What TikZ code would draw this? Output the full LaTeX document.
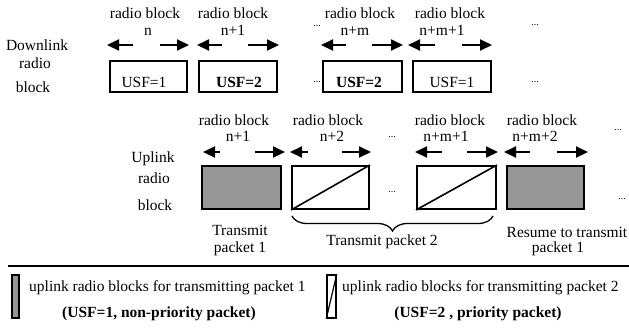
\documentclass[tikz,border=0pt]{standalone}
\usepackage{fontspec}
\setmainfont{Liberation Serif}
\usetikzlibrary{arrows.meta,decorations.pathreplacing,calc}
\definecolor{boxgray}{RGB}{150,150,150}
\begin{document}
\begin{tikzpicture}[x=1pt,y=-1pt,
  every node/.style={font=\fontsize{15.5}{18}\selectfont, inner sep=0pt},
  lbl/.style={anchor=base},
  lbltwo/.style={anchor=base, text height=8.5pt},
  dots/.style={anchor=base, font=\fontsize{10}{12}\selectfont},
  blk/.style={draw, line width=2pt, rectangle, minimum height=#1},
  blk/.default=31pt,
  dir/.style={line width=2pt, -{Triangle[length=12pt,width=11pt]}},
  slashbox/.style={draw, line width=2pt, rectangle, minimum height=43pt, minimum width=#1,
    append after command={\pgfextra{\draw[line width=1.6pt] (\tikzlastnode.south west) -- (\tikzlastnode.north east);}}},
]
\useasboundingbox (0,0) rectangle (629,330);

% ---------- Downlink ----------
\node[lbl] (dl1) at (37,50) {Downlink};
\node[lbl] (dl2) at (35,68) {radio};
\node[lbl] (dl3) at (33,92) {block};

\node[blk, minimum width=77pt] (d1) at (148.5,76.5) {};
\node[blk, minimum width=78pt] (d2) at (238,76.5) {};
\node[blk, minimum width=79pt] (d3) at (362.5,76.5) {};
\node[blk, minimum width=78pt] (d4) at (452,76.5) {};

\node[lbl] (d1t) at (144,87) {USF=1};
\node[lbl] (d2t) at (239,87) {\bfseries USF=2};
\node[lbl] (d3t) at (359,87) {\bfseries USF=2};
\node[lbl] (d4t) at (452,87) {USF=1};

\node[lbl] (d1a) at (145,18) {radio block};
\node[lbl] (d2a) at (233,18) {radio block};
\node[lbl] (d3a) at (360,18) {radio block};
\node[lbl] (d4a) at (450,18) {radio block};
\node[lbl] (d1b) at (148,35) {n};
\node[lbl] (d2b) at (233,35) {n+1};
\node[lbl] (d3b) at (355,35) {n+m};
\node[lbl] (d4b) at (442,35) {n+m+1};

\node[dots] (dd1) at (317,26) {...};
\node[dots] (dd2) at (317,82) {...};
\node[dots] (dd3) at (535,25) {...};
\node[dots] (dd4) at (535,82) {...};

\foreach \lt/\lf/\rf/\rt in {107/133/160/189, 197/222/248/279, 321/346/372/403, 408/435/462/492}{
  \coordinate (a1) at (\lf,45); \coordinate (a2) at (\lt,45);
  \coordinate (a3) at (\rf,45); \coordinate (a4) at (\rt,45);
  \draw[dir] (a1) -- (a2);
  \draw[dir] (a3) -- (a4);
}

% ---------- Uplink ----------
\node[lbl] (ul1) at (153,162) {Uplink};
\node[lbl] (ul2) at (154,183) {radio};
\node[lbl] (ul3) at (155,210) {block};

\node[blk=43pt, minimum width=79pt, fill=boxgray] (u1) at (241.5,187.5) {};
\node[slashbox=77pt] (u2) at (330.5,187.5) {};
\node[slashbox=79pt] (u3) at (456.5,187.5) {};
\node[blk=43pt, minimum width=77pt, fill=boxgray] (u4) at (545.5,187.5) {};

\node[lbl] (u1a) at (234,125) {radio block};
\node[lbl] (u2a) at (328,125) {radio block};
\node[lbl] (u3a) at (450,125) {radio block};
\node[lbl] (u4a) at (542,125) {radio block};
\node[lbltwo] (u1b) at (238,141) {n+1};
\node[lbltwo] (u2b) at (332,141) {n+2};
\node[lbltwo] (u3b) at (446,141) {n+m+1};
\node[lbltwo] (u4b) at (535,141) {n+m+2};

\node[dots] (ud1) at (392,137) {...};
\node[dots] (ud2) at (392,192) {...};
\node[dots] (ud3) at (618,130) {...};
\node[dots] (ud4) at (622,199) {...};

\foreach \lt/\lf/\rf/\rt in {203/220/255/285, 290/308/342/371, 415/442/467/498, 504/530/557/588}{
  \coordinate (b1) at (\lf,152); \coordinate (b2) at (\lt,152);
  \coordinate (b3) at (\rf,152); \coordinate (b4) at (\rt,152);
  \draw[dir] (b1) -- (b2);
  \draw[dir] (b3) -- (b4);
}

\draw[line width=1.3pt, decorate, decoration={brace, mirror, amplitude=15pt}]
  ($(u2.south west)+(1,6)$) -- ($(u3.south east)+(-4,6)$);

\node[lbl] (t1a) at (240,235) {Transmit};
\node[lbl] (t1b) at (240,252) {packet 1};
\node[lbl] (t2) at (382,245) {Transmit packet 2};
\node[lbl] (t3a) at (567,237) {Resume to transmit};
\node[lbl] (t3b) at (558,252) {packet 1};

% ---------- Legend ----------
\coordinate (ll) at (8,266);
\coordinate (lr) at (629,266);
\draw[line width=1.6pt] (ll) -- (lr);

\node[draw, line width=1.5pt, fill=boxgray, minimum width=7pt, minimum height=43pt] (r1) at (15.5,296.5) {};
\node[draw, line width=1.5pt, minimum width=9pt, minimum height=43pt] (r2) at (331.5,296.5) {};
\draw[line width=1.2pt] (r2.south west) -- (r2.north east);

\node[anchor=base west] (lg1) at (29,291) {uplink radio blocks for transmitting packet 1};
\node[lbl] (lg1b) at (159,317) {\bfseries (USF=1, non-priority packet)};
\node[anchor=base west] (lg2) at (342,291) {uplink radio blocks for transmitting packet 2};
\node[lbl] (lg2b) at (478,317) {\bfseries (USF=2 , priority packet)};
\end{tikzpicture}
\end{document}
